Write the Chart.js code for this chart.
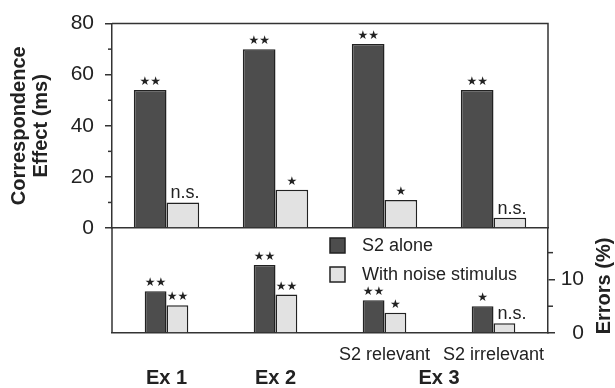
<!DOCTYPE html>
<html>
<head>
<meta charset="utf-8">
<script src="https://cdn.jsdelivr.net/npm/chart.js@4.4.1/dist/chart.umd.min.js"></script>
<style>
  body { margin: 0; background: #fff; }
  #wrap { position: relative; width: 615px; height: 388px; }
  #wrap canvas { position: absolute; left: 0; top: 0; }
</style>
</head>
<body>
<div id="wrap">
  <canvas id="rt-chart" width="615" height="388"></canvas>
  <canvas id="err-chart" width="615" height="388"></canvas>
</div>
<script>
const conditions = ['Ex 1', 'Ex 2', 'S2 relevant', 'S2 irrelevant'];
const experiments = ['Ex 1', 'Ex 2', 'Ex 3', 'Ex 3'];
const seriesNames = ['S2 alone', 'With noise stimulus'];

// correspondence effect (ms)
const rtAlone = [54, 70, 72, 54];
const rtNoise = [10, 15, 11, 4];
const rtSigAlone = ['**', '**', '**', '**'];
const rtSigNoise = ['n.s.', '*', '*', 'n.s.'];

// errors (%)
const errAlone = [7.8, 12.7, 6.1, 5.0];
const errNoise = [5.2, 7.2, 3.8, 1.8];
const errSigAlone = ['**', '**', '**', '*'];
const errSigNoise = ['**', '**', '*', 'n.s.'];

const rtTicks = [0, 20, 40, 60, 80];
const rtMinorTicks = [10, 30, 50, 70];
const errTicks = [0, 10];
const errMinorTicks = [5, 15];

const darkFill = '#4d4d4d';
const lightFill = '#e2e2e2';
const axisColor = '#333';
const fontFam = '"Liberation Sans", Arial, Helvetica, sans-serif';

// stars and n.s. above the bars
const sigPlugin = {
    id: 'sig',
    afterDatasetsDraw(chart) {
        const ctx = chart.ctx;
        ctx.save();
        ctx.fillStyle = '#222';
        chart.data.datasets.forEach((ds, i) => {
            const meta = chart.getDatasetMeta(i);
            meta.data.forEach((bar, j) => {
                const s = ds.sig[j];
                if (s === 'n.s.') {
                    ctx.font = '18px ' + fontFam;
                    ctx.textAlign = 'left';
                    ctx.textBaseline = 'alphabetic';
                    ctx.fillText(s, bar.x - bar.width / 2 + 4, bar.y - 4);
                } else {
                    ctx.font = '12px "DejaVu Sans"';
                    ctx.textAlign = 'center';
                    ctx.textBaseline = 'middle';
                    ctx.fillText('★'.repeat(s.length), bar.x, bar.y - 8);
                }
            });
        });
        ctx.restore();
    }
};

// short minor ticks
function minorTicks(scaleId, values, side) {
    return {
        id: 'minor-' + scaleId,
        afterDraw(chart) {
            const sc = chart.scales[scaleId];
            const ctx = chart.ctx;
            ctx.save();
            ctx.strokeStyle = axisColor;
            ctx.lineWidth = 1.5;
            values.forEach(v => {
                const y = sc.getPixelForValue(v);
                const x0 = side === 'left' ? sc.right : sc.left;
                const x1 = side === 'left' ? sc.right - 4 : sc.left + 5;
                ctx.beginPath();
                ctx.moveTo(x0, y);
                ctx.lineTo(x1, y);
                ctx.stroke();
            });
            ctx.restore();
        }
    };
}

const topFrame = {
    id: 'topFrame',
    afterDraw(chart) {
        const {left, right, top, bottom} = chart.chartArea;
        const ctx = chart.ctx;
        ctx.save();
        ctx.strokeStyle = axisColor;
        ctx.lineWidth = 1.5;
        ctx.beginPath();
        ctx.moveTo(left, top);
        ctx.lineTo(right, top);
        ctx.lineTo(right, bottom);
        ctx.stroke();
        ctx.restore();
    }
};

const bottomExtras = {
    id: 'bottomExtras',
    afterDraw(chart) {
        const {left, top, bottom} = chart.chartArea;
        const ctx = chart.ctx;
        ctx.save();
        ctx.strokeStyle = axisColor;
        ctx.lineWidth = 1.5;
        ctx.beginPath();
        ctx.moveTo(left, top);
        ctx.lineTo(left, bottom);
        ctx.stroke();

        // legend
        ctx.font = '18px ' + fontFam;
        ctx.textBaseline = 'middle';
        ctx.textAlign = 'left';
        chart.data.datasets.forEach((ds, i) => {
            const y = 238 + i * 29;
            ctx.fillStyle = ds.backgroundColor;
            ctx.fillRect(330, y, 15, 15);
            ctx.strokeStyle = '#222';
            ctx.lineWidth = 1.5;
            ctx.strokeRect(330, y, 15, 15);
            ctx.fillStyle = '#222';
            ctx.fillText(ds.label, 362, y + 8);
        });

        // experiment labels under the groups
        const xs = chart.scales.x;
        ctx.font = 'bold 20px ' + fontFam;
        ctx.textAlign = 'center';
        const seen = [...new Set(experiments)];
        seen.forEach(name => {
            const idx = experiments.map((e, k) => e === name ? k : -1).filter(k => k >= 0);
            const cx = idx.reduce((a, k) => a + xs.getPixelForValue(k), 0) / idx.length;
            ctx.fillText(name, cx, 378);
        });

        // right axis title, reading upward
        ctx.translate(604, 286);
        ctx.rotate(-Math.PI / 2);
        ctx.font = 'bold 20px ' + fontFam;
        ctx.fillText('Errors (%)', 0, 0);
        ctx.restore();
    }
};

const rtChart = new Chart(document.getElementById('rt-chart'), {
    type: 'bar',
    data: {
        labels: conditions,
        datasets: [
            { label: seriesNames[0], data: rtAlone, sig: rtSigAlone, backgroundColor: darkFill },
            { label: seriesNames[1], data: rtNoise, sig: rtSigNoise, backgroundColor: lightFill }
        ]
    },
    options: {
        responsive: false,
        animation: false,
        layout: { padding: { top: 16, right: 67, left: 0, bottom: 0 } },
        datasets: {
            bar: { categoryPercentage: 0.6, barPercentage: 1, borderColor: '#222', borderWidth: 1.5 }
        },
        plugins: { legend: { display: false }, tooltip: { enabled: false } },
        scales: {
            x: {
                ticks: { display: false },
                grid: { drawOnChartArea: false, drawTicks: false },
                border: { color: axisColor, width: 1.5 },
                afterFit: s => { s.height = 160; }
            },
            y: {
                min: 0,
                max: 80,
                afterBuildTicks: s => { s.ticks = rtTicks.map(v => ({ value: v })); },
                ticks: { color: '#222', font: { family: fontFam, size: 21 }, padding: 11 },
                grid: { drawOnChartArea: false, color: axisColor, lineWidth: 1.5, tickLength: 7 },
                border: { color: axisColor, width: 1.5 },
                title: {
                    display: true,
                    text: ['Correspondence', 'Effect (ms)'],
                    color: '#222',
                    font: { family: fontFam, size: 20, weight: 'bold', lineHeight: 1.1 },
                    padding: { top: 8, bottom: 0 }
                },
                afterFit: s => { s.width = 112; }
            }
        }
    },
    plugins: [sigPlugin, topFrame, minorTicks('y', rtMinorTicks, 'left')]
});

const errChart = new Chart(document.getElementById('err-chart'), {
    type: 'bar',
    data: {
        labels: conditions,
        datasets: [
            { label: seriesNames[0], data: errAlone, sig: errSigAlone, backgroundColor: darkFill },
            { label: seriesNames[1], data: errNoise, sig: errSigNoise, backgroundColor: lightFill }
        ]
    },
    options: {
        responsive: false,
        animation: false,
        layout: { padding: { top: 228, right: 31, left: 112, bottom: 0 } },
        datasets: {
            bar: { categoryPercentage: 0.4, barPercentage: 1, borderColor: '#222', borderWidth: 1.5 }
        },
        plugins: { legend: { display: false }, tooltip: { enabled: false } },
        scales: {
            x: {
                ticks: {
                    color: '#222',
                    font: { family: fontFam, size: 18 },
                    padding: 11,
                    maxRotation: 0,
                    autoSkip: false,
                    callback: (v, i) => conditions[i] === experiments[i] ? '' : conditions[i]
                },
                grid: { drawOnChartArea: false, drawTicks: false },
                border: { color: axisColor, width: 1.5 },
                afterFit: s => { s.height = 55; }
            },
            y: {
                position: 'right',
                min: 0,
                max: 19.6,
                afterBuildTicks: s => { s.ticks = errTicks.map(v => ({ value: v })); },
                ticks: { color: '#222', font: { family: fontFam, size: 21 }, padding: 3, crossAlign: 'far' },
                grid: { drawOnChartArea: false, color: axisColor, lineWidth: 1.5, tickLength: 7 },
                border: { color: axisColor, width: 1.5 },
                afterFit: s => { s.width = 36; }
            }
        }
    },
    plugins: [sigPlugin, bottomExtras, minorTicks('y', errMinorTicks, 'right')]
});
</script>
</body>
</html>
